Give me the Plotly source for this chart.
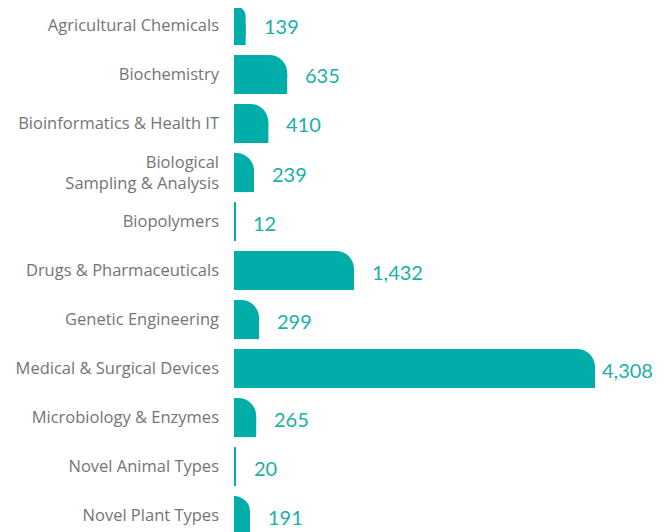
import plotly.graph_objects as go

categories = [
    "Agricultural Chemicals",
    "Biochemistry",
    "Bioinformatics & Health IT",
    "Biological<br>Sampling & Analysis",
    "Biopolymers",
    "Drugs & Pharmaceuticals",
    "Genetic Engineering",
    "Medical & Surgical Devices",
    "Microbiology & Enzymes",
    "Novel Animal Types",
    "Novel Plant Types",
]
values = [139, 635, 410, 239, 12, 1432, 299, 4308, 265, 20, 191]

TEAL = "#00ADA8"
LABEL_TEAL = "#1AB0A8"
GRAY = "#747474"
BW = 0.8

fig = go.Figure()
# rounded top-right corner: full bar with corner radius
fig.add_trace(go.Bar(
    x=values, y=categories, orientation="h",
    marker=dict(color=TEAL, cornerradius=18, line=dict(width=0)),
    width=BW, offset=-BW / 2, hoverinfo="skip",
))
# square bottom half to keep bottom-right corner sharp
fig.add_trace(go.Bar(
    x=values, y=categories, orientation="h",
    marker=dict(color=TEAL, line=dict(width=0)),
    width=BW / 2, offset=0, hoverinfo="skip",
))

vmax = max(values)
for c, v in zip(categories, values):
    fig.add_annotation(
        x=v, y=c, xref="x", yref="y", text=f"{v:,}", showarrow=False,
        xanchor="left", yanchor="middle", xshift=(5 if v > 0.8 * vmax else 16),
        yshift=-1,
        font=dict(family="Lato, sans-serif", size=20, color=LABEL_TEAL),
    )

fig.update_layout(
    width=671, height=532,
    margin=dict(l=226, r=0, t=0, b=0),
    barmode="overlay",
    showlegend=False,
    plot_bgcolor="white", paper_bgcolor="white",
    xaxis=dict(range=[0, 5310], visible=False, fixedrange=True),
    yaxis=dict(
        type="category", range=[10.5, -0.357],
        showgrid=False, zeroline=False, showline=False,
        ticks="", ticklabelstandoff=14,
        tickfont=dict(family="Open Sans, sans-serif", size=16.5, color=GRAY),
    ),
)

fig.write_html("out.html")
